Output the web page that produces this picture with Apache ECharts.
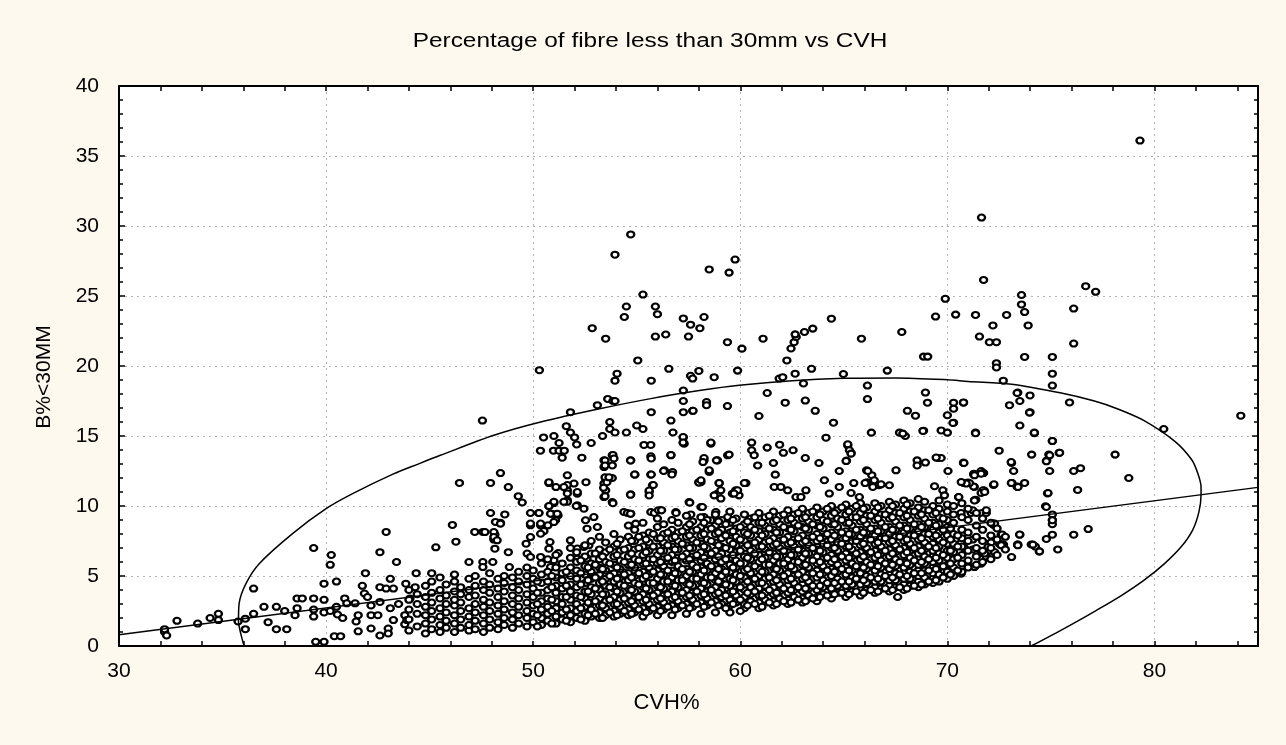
<!DOCTYPE html>
<html>
<head>
<meta charset="utf-8">
<title>Percentage of fibre less than 30mm vs CVH</title>
<script src="https://cdn.jsdelivr.net/npm/echarts@6/dist/echarts.min.js"></script>
<style>
  html, body { margin: 0; padding: 0; background: #fef9ef; }
  #chart { width: 1286px; height: 745px; }
</style>
</head>
<body>
<div id="chart"></div>
<script>
// axis ranges (CVH% on x, B%<30MM on y)
var xMin = 30, xMax = 85, xStep = 10;
var yMin = 0, yMax = 40, yStep = 5;

// single points: [CVH%, B%<30MM]
var leftTail = [
  [32.2,1.0],[32.2,1.2],[32.3,0.75],[32.8,1.8],[33.8,1.6],[34.4,2.0],[34.8,2.3],[34.8,1.85],
  [35.75,1.75],[36.1,1.95],[36.1,1.2],[36.5,4.1],[36.5,2.3],[37.0,2.8],[37.2,1.7],[37.6,2.8],
  [37.6,1.2],[38.1,1.2],[38.0,2.5],[38.5,2.2],[38.6,2.7],[38.6,3.4],[38.85,3.4],[39.4,7.0],
  [39.4,3.4],[39.4,2.6],[39.4,2.1],[39.5,0.3],[39.9,0.3],[39.9,4.45],[39.9,3.3],[39.9,2.4],
  [40.2,5.8],[40.25,6.5],[40.5,4.6],[40.2,2.5],[40.5,2.8],[40.55,2.25],[40.4,0.7],[40.7,0.7],
  [40.9,3.4],[41.0,3.05],[41.4,3.05],[40.8,2.0],[41.45,1.75],[41.55,2.2],[41.55,1.05],[41.9,5.2],
  [41.75,4.3],[41.85,3.75],[42.0,3.5],[42.17,2.9],[42.17,2.2],[42.17,1.25],[42.5,2.2],[42.6,0.75],
  [42.6,3.15],[42.6,4.2],[42.9,4.1],[43.25,4.1],[43.1,4.8],[43.0,1.25],[43.0,0.9],[43.1,2.7],
  [43.25,1.85],[43.4,6.0],[42.9,8.15],[42.6,6.7],[43.5,3.0],[43.8,2.2],[43.8,1.55],[43.9,1.85],
  [43.85,4.45],[44.05,3.4],[44.3,4.2],[44.35,5.2]
];

var midScatter = [
  [46.44,11.65],[46.1,8.65],[46.27,7.45],[45.3,7.05],[46.9,6.0],[47.55,16.1],[48.42,12.35],[47.94,11.65],
  [48.8,11.35],[49.28,10.7],[49.47,10.25],[47.94,9.5],[48.42,8.8],[48.63,9.4],[48.15,7.95],[48.1,7.6],
  [48.15,6.95],[48.8,6.7],[47.57,8.15],[47.18,8.15],[47.67,8.14],[48.1,8.14],[48.18,8.86],[48.42,8.74],
  [48.1,7.78],[48.26,7.55],[47.57,6.0],[47.57,5.64],[48.05,6.0],[48.85,5.64],
  [49.87,9.5],[50.27,9.5],[49.87,8.62],[50.36,8.62],[50.52,8.21],[50.36,8.02],[49.87,7.78],[49.71,6.6],
  [49.87,6.36],[49.66,7.31],[50.36,6.36],[50.76,11.64],[51.0,10.21],[50.76,9.98],[50.88,9.45],[51.2,9.33],
  [51.08,8.98],[50.71,8.62],[50.81,7.43],[50.76,6.95],[51.21,6.64],[51.0,6.12],[50.84,5.64],
  [51.65,12.19],[51.65,11.12],[51.97,11.6],[52.13,10.88],[52.13,10.05],[52.45,9.81],[51.65,10.4],[52.53,8.98],
  [52.93,9.21],[53.1,8.5],[52.6,8.38],[51.8,7.55],[52.13,6.96],[52.45,7.07],[52.69,7.19],[52.13,6.24],[52.6,6.24],
  [53.42,13.26],[53.82,13.62],[53.42,12.78],[53.82,12.9],[53.5,11.96],[53.82,12.0],[53.42,11.6],[53.5,11.12],
  [53.42,10.64],[53.82,10.28],[54.71,13.26],[54.91,12.24],[54.71,10.84],[55.6,11.0],[55.68,12.24],[55.76,11.48],
  [55.68,13.55],[56.65,13.62],[56.33,12.55],[56.73,12.43],[57.29,14.45],[55.35,14.36],[55.68,14.36],[54.38,9.57],
  [54.71,9.45],[54.95,8.74],[55.68,9.57],[56.16,9.69],[56.89,9.57],[57.61,9.4],[58.1,9.93],[58.25,9.21],
  [58.58,8.98],[58.9,8.98],[59.39,9.21],[57.53,10.28],[58.1,11.7],[58.98,11.64],[58.9,10.88],[59.06,10.53],
  [58.5,12.43],[58.25,13.26],[58.9,13.26],[59.39,13.62],[58.58,14.45],
  [52.13,11.0],[52.08,10.0],[51.65,11.5],[51.48,11.35],[51.65,10.9],[51.65,10.3],[51.48,10.3],[51.1,11.35],
  [50.76,11.7],[51.0,10.3],[50.76,10.0],[50.84,9.45],[51.0,8.85],[51.16,9.45],[50.28,9.5],[50.36,8.75],[49.87,8.75]
];

var upperScatter = [
  [54.71,29.4],[53.95,27.95],[55.3,25.1],[54.5,24.25],[54.4,23.5],[55.9,24.25],[56.0,23.7],[52.85,22.7],
  [53.5,21.95],[55.9,22.1],[56.4,22.25],[57.25,23.4],[57.6,22.95],[57.5,22.1],[58.05,22.7],[50.3,19.7],
  [55.05,20.4],[56.55,19.8],[53.95,18.95],[54.05,19.45],[55.7,18.95],[57.6,19.3],[57.7,19.1],[57.25,18.25],
  [57.25,17.5],[57.25,16.7],[57.7,16.8],[58.0,19.65],[58.0,11.7],[53.1,17.2],[53.6,17.65],[53.85,17.5],
  [53.95,17.5],[51.8,16.7],[55.7,16.7],[53.7,16.0],[53.7,15.5],[53.95,15.25],[54.5,15.25],[55.0,15.75],
  [55.3,15.5],[56.65,16.1],[56.75,15.25],[57.25,14.9],[57.25,14.5],[51.6,15.7],[51.8,15.25],[52.0,14.9],
  [52.1,14.4],[50.5,14.9],[51.0,15.0],[51.25,14.5],[50.98,13.95],[51.25,13.95],[51.5,13.95],[51.4,13.45],
  [50.35,13.95],[52.35,13.45],[52.8,14.5],[53.35,15.0],[53.47,13.25],[53.47,12.9],[53.47,12.05],[53.56,11.7],
  [53.66,12.05],[53.4,11.3],[53.47,10.7],[53.85,10.2],[53.85,13.65],[53.9,13.4],[54.7,13.25],[54.9,12.25],
  [55.7,13.4],[55.7,12.25],[55.8,11.5],[55.6,11.1],[55.6,10.75],[54.7,10.8],[54.55,9.5],[54.7,9.45],
  [55.85,9.5],[56.05,9.7],[56.2,9.7],[56.65,13.65],[56.3,12.5],[56.7,12.25],[56.9,9.5],[52.55,11.7],
  [58.5,26.9],[59.46,26.67],[59.75,27.6],[69.9,24.8],[58.25,23.5],[59.38,21.7],[60.08,21.24],[61.1,21.95],
  [62.25,20.4],[62.45,21.25],[62.6,21.7],[62.7,22.07],[63.1,22.43],[63.5,22.67],[62.65,22.26],[64.4,23.38],
  [65.85,21.95],[67.8,22.43],[68.85,20.67],[69.05,20.67],[69.43,23.53],[70.4,23.67],[58.74,19.2],[57.72,16.8],
  [58.37,17.43],[58.37,17.2],[59.38,17.14],[59.87,19.67],[60.9,16.43],[61.3,18.07],[61.88,19.1],[62.05,19.2],
  [62.65,19.45],[63.05,18.75],[63.44,19.8],[62.17,17.38],[63.14,17.53],[63.62,16.8],[64.5,15.95],[64.98,19.43],
  [66.14,18.6],[66.14,17.64],[66.33,15.24],[67.1,19.67],[68.07,16.8],[68.46,16.45],[67.69,15.24],[67.97,15.0],
  [68.94,18.1],[69.04,17.38],[68.85,15.38],[69.7,15.4],[70.0,15.24],[70.0,16.48],[70.3,17.38],[70.3,16.95],
  [70.3,15.95],[70.78,17.38],[71.36,15.24],[64.14,14.88],[60.55,14.53],[60.55,13.98],[60.67,13.63],[60.84,12.9],
  [61.3,14.17],[61.9,14.38],[62.08,13.8],[61.6,13.07],[62.55,13.98],[63.14,13.43],[63.8,13.07],[65.19,14.33],
  [65.35,13.8],[65.13,13.24],[64.78,12.5],[66.1,12.55],[66.35,12.2],[66.37,11.7],[66.12,11.7],[66.7,11.48],
  [67.2,11.48],[67.52,12.55],[68.54,13.26],[68.54,12.9],[68.94,13.1],[69.54,13.43],[69.7,13.43],[70.03,12.5],
  [70.78,13.1],[70.99,11.67],[71.3,11.36],[71.3,12.24],[71.63,12.5],[57.24,14.93],[57.24,14.53],[58.58,14.53],
  [58.25,13.43],[58.2,13.14],[58.85,13.26],[58.5,12.55],[59.46,13.67],[60.27,11.64],[58.0,11.67],[58.1,11.84],
  [58.98,11.64],[59.06,11.12],[58.74,10.76],[59.62,10.88],[59.78,11.12],[59.94,10.76],[57.56,10.24],[58.17,9.93],
  [58.82,9.57],[60.2,11.64],[61.69,12.24],[61.64,11.36],[61.96,11.36],[62.29,11.12],[62.69,10.64],[62.93,10.64],
  [63.17,11.12],[64.06,11.84],[64.3,10.89],[64.78,11.36],[65.11,13.21],[65.19,14.41],[65.27,13.98],[65.35,13.74],
  [65.48,11.64],[65.35,10.93],[65.75,10.64],[66.16,12.5],[66.47,11.84],[66.03,11.64],[66.4,11.36],[66.8,11.55],
  [67.85,15.17],[68.82,15.36],[70.27,15.93],[69.46,13.46],[69.38,11.41],[69.78,11.12],[69.86,10.76],[70.54,10.64],
  [59.87,11.12],[59.7,10.89]
];

var rightScatter = [
  [79.3,36.1],[71.65,30.6],[71.75,26.15],[76.68,25.7],[77.16,25.3],[73.58,25.07],[73.58,24.4],[73.73,23.85],
  [73.9,22.9],[76.1,24.1],[71.36,23.65],[72.2,22.9],[72.86,23.65],[71.55,22.1],[72.03,21.7],[72.37,21.7],
  [76.1,21.6],[73.73,20.65],[75.07,20.65],[72.37,20.2],[72.37,19.9],[75.07,19.45],[75.07,18.6],[72.7,18.95],
  [70.78,17.4],[73.4,18.1],[73.5,17.5],[73.99,17.9],[73.0,17.2],[73.99,16.7],[75.9,17.4],[73.5,15.75],
  [74.2,15.2],[71.36,15.2],[84.17,16.45],[80.45,15.5],[75.07,14.65],[72.5,13.95],[74.07,13.67],[74.9,13.67],
  [75.4,13.8],[74.8,13.25],[78.1,13.67],[70.78,13.07],[73.1,13.07],[73.2,12.5],[74.94,12.5],[76.1,12.5],
  [76.43,12.7],[71.27,12.25],[71.75,12.35],[78.76,12.0],[70.78,11.65],[70.99,11.65],[71.27,11.4],[72.23,11.5],
  [73.1,11.65],[73.4,11.4],[73.73,11.65],[71.67,11.0],[71.78,11.1],[74.84,10.9],[76.29,11.15],[71.37,10.45],
  [74.74,9.98],[75.07,9.4],[75.07,9.0],[75.07,8.7],[75.07,7.95],[70.66,9.5],[71.15,9.5],[71.67,9.5],
  [71.88,9.5],[72.23,8.65],[76.8,8.35],[76.1,7.95],[72.6,7.95],[73.5,7.95],[74.78,7.65],[70.66,7.36],
  [71.23,7.6],[72.11,7.4],[72.52,7.3],[72.71,7.25],[73.39,7.25],[74.05,7.25],[74.25,7.1],[74.44,6.75],
  [75.33,6.9],[73.1,6.35],[70.83,7.0],[71.23,6.9],[71.63,6.65],[71.87,6.4],[72.2,6.5],[74.45,6.76],
  [74.13,7.24],[73.4,7.24],[73.49,7.96],[72.65,7.96],[72.65,7.24],[72.23,8.74],[74.78,9.93],[75.07,8.98],
  [74.86,10.93],[73.08,13.14],[73.12,11.64],[73.37,11.36],[74.78,13.19],[74.94,13.62],[75.42,13.81],[73.37,18.07],
  [73.97,16.67],[74.2,15.24],[75.07,14.64],[73.09,11.64],[73.41,11.36],[72.25,11.55],[71.72,11.12],[71.63,10.93],
  [71.31,10.41],[70.83,11.64],[71.07,11.64],[71.28,12.31],[71.72,12.36],[70.8,13.07],[73.4,7.19],[72.52,7.31],
  [72.28,8.74],[71.63,5.88],[71.31,5.64],[70.99,5.76],[70.67,5.17],[70.34,5.4],[71.8,6.6],[71.96,7.07],
  [72.28,6.71],[72.6,7.19],[70.55,10.64],[71.31,10.4],[71.8,11.0],[71.63,12.31],[71.31,12.19],[70.91,11.6],
  [70.67,11.71],[71.23,9.69],[71.88,9.69],[69.54,4.81],[70.03,5.29],[70.18,5.64],[69.38,5.17],[67.6,3.5],[68.0,4.21]
];

// the packed band of points, read column by column: [CVH%, [B%<30MM values]]
var bandColumns = [
  [44.0, [1.1,1.9,2.6,3.3,4.0]],
  [44.4, [1.4,2.3,3.0,3.7]],
  [44.8, [0.9,1.6,2.2,2.8,3.5,4.3]],
  [45.1, [1.2,1.9,2.5,3.1,3.8,4.6,5.2]],
  [45.5, [1.0,1.5,2.1,2.7,3.4,4.0,4.9]],
  [45.8, [1.3,1.8,2.4,3.0,3.6,4.4]],
  [46.2, [1.0,1.6,2.2,2.9,3.3,3.9,4.6,5.1]],
  [46.5, [1.3,1.9,2.5,3.1,3.7,4.2]],
  [46.9, [1.1,1.5,2.1,2.7,3.5,4.0,4.8]],
  [47.2, [1.2,1.8,2.4,3.0,3.6,4.3,5.0]],
  [47.6, [1.0,1.6,2.2,2.8,3.3,4.0,4.6]],
  [47.9, [1.3,1.9,2.5,3.1,3.8,4.4,5.2]],
  [48.3, [1.2,1.7,2.3,2.9,3.5,4.1,4.8]],
  [48.6, [1.5,2.0,2.6,3.2,3.9,4.5,5.0]],
  [49.0, [1.3,1.9,2.4,3.0,3.6,4.2,4.9]],
  [49.3, [1.6,2.2,2.8,3.4,4.0,4.6,5.3]],
  [49.7, [1.4,2.0,2.5,3.1,3.7,4.4,5.0,5.6]],
  [50.0, [1.7,2.3,2.9,3.5,4.1,4.8,5.4]],
  [50.4, [1.5,2.0,2.6,3.2,3.8,4.5,5.1,5.9]],
  [50.7, [1.8,2.3,2.8,3.4,4.0,4.6,5.3,6.2]],
  [51.1, [1.6,2.1,2.7,3.2,3.8,4.3,4.9,5.6,6.5]],
  [51.4, [1.9,2.4,3.0,3.5,4.1,4.7,5.2,5.9]],
  [51.8, [1.7,2.2,2.7,3.3,3.9,4.4,5.0,5.6,6.3,7.0]],
  [52.1, [2.0,2.5,3.0,3.6,4.2,4.8,5.4,6.0,6.7]],
  [52.5, [1.8,2.3,2.8,3.4,3.9,4.5,5.1,5.7,6.4,7.2]],
  [52.8, [2.1,2.6,3.1,3.7,4.2,4.8,5.3,5.9,6.6,7.5]],
  [53.2, [2.0,2.4,2.9,3.4,4.0,4.5,5.1,5.6,6.2,6.9,7.8]],
  [53.5, [2.2,2.7,3.2,3.7,4.3,4.8,5.4,6.0,6.7,7.4]],
  [53.9, [2.1,2.5,3.0,3.5,4.1,4.6,5.2,5.8,6.4,7.1,8.0]],
  [54.2, [2.3,2.8,3.3,3.8,4.4,4.9,5.5,6.1,6.8,7.6]],
  [54.6, [2.2,2.6,3.1,3.6,4.1,4.7,5.2,5.8,6.4,7.0,7.8,8.6]],
  [54.9, [2.4,2.9,3.4,3.9,4.5,5.0,5.6,6.2,6.9,7.5,8.3]],
  [55.3, [2.1,2.7,3.2,3.7,4.2,4.8,5.3,5.9,6.5,7.1,7.9,8.8]],
  [55.6, [2.5,3.0,3.5,4.0,4.5,5.1,5.6,6.2,6.8,7.4,8.1]],
  [56.0, [2.2,2.8,3.3,3.8,4.3,4.8,5.4,5.9,6.5,7.1,7.7,8.5,9.1]],
  [56.3, [2.6,3.1,3.6,4.1,4.6,5.1,5.7,6.2,6.8,7.4,8.0,8.7]],
  [56.7, [2.2,2.9,3.4,3.9,4.4,4.9,5.4,6.0,6.5,7.1,7.7,8.3,9.0]],
  [57.0, [2.7,3.2,3.7,4.2,4.7,5.2,5.7,6.3,6.9,7.5,8.1,8.8]],
  [57.4, [2.3,3.0,3.5,4.0,4.5,5.0,5.5,6.1,6.6,7.2,7.8,8.5,9.3]],
  [57.7, [2.8,3.3,3.8,4.3,4.8,5.3,5.8,6.4,7.0,7.6,8.2,8.9]],
  [58.1, [2.3,3.1,3.6,4.1,4.6,5.1,5.6,6.1,6.7,7.3,7.9,8.5,9.2]],
  [58.4, [2.9,3.4,3.9,4.4,4.9,5.4,5.9,6.5,7.0,7.6,8.3,9.0]],
  [58.8, [2.4,3.2,3.7,4.2,4.7,5.2,5.7,6.2,6.8,7.4,8.0,8.6,9.4]],
  [59.1, [3.0,3.5,4.0,4.5,5.0,5.5,6.0,6.6,7.1,7.7,8.3,9.0]],
  [59.5, [2.4,2.9,3.3,3.8,4.3,4.8,5.3,5.8,6.3,6.9,7.5,8.1,8.8,9.6]],
  [59.8, [3.1,3.6,4.1,4.6,5.1,5.6,6.1,6.7,7.2,7.8,8.4,9.1]],
  [60.2, [2.7,3.0,3.5,4.0,4.4,4.9,5.4,5.9,6.4,7.0,7.5,8.1,8.7,9.4]],
  [60.5, [3.2,3.7,4.2,4.7,5.2,5.7,6.2,6.8,7.3,7.9,8.5,9.1]],
  [60.9, [2.7,3.1,3.6,4.1,4.5,5.0,5.5,6.0,6.5,7.1,7.6,8.2,8.8,9.5]],
  [61.2, [3.3,3.8,4.3,4.8,5.3,5.8,6.3,6.9,7.4,8.0,8.6,9.2]],
  [61.6, [2.9,3.2,3.7,4.2,4.6,5.1,5.6,6.1,6.6,7.2,7.7,8.3,8.9,9.6]],
  [61.9, [3.4,3.9,4.4,4.9,5.4,5.9,6.4,7.0,7.5,8.1,8.7,9.3]],
  [62.3, [3.0,3.3,3.8,4.3,4.7,5.2,5.7,6.2,6.7,7.3,7.8,8.4,9.0,9.7]],
  [62.6, [3.5,4.0,4.5,5.0,5.5,6.0,6.5,7.1,7.6,8.2,8.8,9.4]],
  [63.0, [3.1,3.4,3.9,4.4,4.8,5.3,5.8,6.3,6.8,7.4,7.9,8.5,9.1,9.8]],
  [63.3, [3.6,4.1,4.6,5.1,5.6,6.1,6.6,7.2,7.7,8.3,8.9,9.5]],
  [63.7, [3.2,3.5,4.0,4.5,4.9,5.4,5.9,6.4,6.9,7.5,8.0,8.6,9.2,9.9]],
  [64.0, [3.7,4.2,4.7,5.2,5.7,6.2,6.7,7.3,7.8,8.4,9.0,9.6]],
  [64.4, [3.4,3.7,4.1,4.6,5.0,5.5,6.0,6.5,7.0,7.6,8.1,8.7,9.3,10.0]],
  [64.7, [3.8,4.3,4.8,5.3,5.8,6.3,6.8,7.4,7.9,8.5,9.1,9.7]],
  [65.1, [3.5,3.9,4.3,4.7,5.1,5.6,6.1,6.6,7.1,7.7,8.2,8.8,9.4,10.1]],
  [65.4, [3.9,4.4,4.9,5.4,5.9,6.4,6.9,7.5,8.0,8.6,9.2,9.8]],
  [65.8, [3.6,4.0,4.4,4.8,5.2,5.7,6.2,6.7,7.2,7.8,8.3,8.9,9.5,10.2]],
  [66.1, [4.0,4.5,5.0,5.5,6.0,6.5,7.0,7.6,8.1,8.7,9.3,9.9]],
  [66.5, [3.8,4.2,4.6,5.0,5.4,5.8,6.3,6.8,7.3,7.9,8.4,9.0,9.6,10.2]],
  [66.8, [4.1,4.6,5.1,5.6,6.1,6.6,7.1,7.7,8.2,8.8,9.4,10.0]],
  [67.2, [3.9,4.3,4.7,5.1,5.5,5.9,6.4,6.9,7.4,8.0,8.5,9.1,9.7,10.3]],
  [67.5, [4.2,4.7,5.2,5.7,6.2,6.7,7.2,7.8,8.3,8.9,9.5,10.1]],
  [67.9, [4.0,4.4,4.8,5.2,5.6,6.0,6.5,7.0,7.5,8.1,8.6,9.2,9.8,10.4]],
  [68.2, [4.3,4.8,5.3,5.8,6.3,6.8,7.3,7.9,8.4,9.0,9.6,10.2]],
  [68.6, [4.2,4.6,5.0,5.4,5.8,6.2,6.6,7.1,7.6,8.2,8.7,9.3,9.9,10.5]],
  [68.9, [4.4,4.9,5.4,5.9,6.4,6.9,7.4,8.0,8.5,9.1,9.7,10.3]],
  [69.3, [4.5,4.8,5.2,5.6,6.0,6.4,6.8,7.3,7.8,8.3,8.8,9.4,10.0]],
  [69.6, [4.6,5.1,5.6,6.1,6.6,7.1,7.6,8.1,8.7,9.2,9.8,10.4]],
  [70.0, [4.8,5.3,5.8,6.3,6.8,7.3,7.9,8.5,9.0,9.6,10.1]],
  [70.3, [5.0,5.6,6.2,6.7,7.3,8.0,8.8,9.4,10.0]],
  [70.7, [5.3,5.9,6.5,7.1,7.7,8.3,9.2,10.2]],
  [71.0, [5.6,6.1,6.8,7.5,8.1,9.0,9.8]],
  [71.4, [5.8,6.4,7.0,7.8,8.6,9.5]],
  [71.7, [6.0,6.8,7.5,8.3,9.1]],
  [72.1, [6.2,7.0,7.9,8.8]],
  [72.4, [6.5,7.6,8.4]],
  [72.8, [6.9,7.8]]
];

// second pass over the darkest part of the band, between the columns above
var bandColumnsInner = [
  [50.2, [1.4,2.2,3.0,3.8,4.6]],
  [50.9, [1.6,2.5,3.3,4.2,5.0]],
  [51.6, [1.8,2.6,3.5,4.3,5.3]],
  [52.3, [1.9,2.7,3.5,4.4,5.2,6.1]],
  [52.65, [2.2,3.1,3.9,4.7,5.6]],
  [53.0, [2.3,3.2,4.1,4.9,5.8,6.6]],
  [53.35, [2.0,2.9,3.7,4.6,5.5,6.4]],
  [53.7, [2.4,3.3,4.2,5.0,5.9,6.9]],
  [54.05, [2.2,3.0,3.9,4.8,5.6,6.5,7.3]],
  [54.4, [2.5,3.4,4.3,5.1,6.0,6.9]],
  [54.75, [2.3,3.2,4.0,4.9,5.8,6.6,7.5]],
  [55.1, [2.6,3.5,4.4,5.2,6.1,7.0,7.8]],
  [55.45, [2.4,3.3,4.1,5.0,5.9,6.7,7.6]],
  [55.8, [2.7,3.6,4.5,5.3,6.2,7.1,8.0]],
  [56.15, [2.5,3.4,4.2,5.1,6.0,6.8,7.7]],
  [56.5, [2.8,3.7,4.6,5.4,6.3,7.2,8.1]],
  [56.85, [2.6,3.5,4.3,5.2,6.1,6.9,7.8]],
  [57.2, [2.9,3.8,4.7,5.5,6.4,7.3,8.2]],
  [57.55, [2.7,3.6,4.4,5.3,6.2,7.0,7.9,8.7]],
  [57.9, [3.0,3.9,4.8,5.6,6.5,7.4,8.3]],
  [58.25, [2.8,3.7,4.5,5.4,6.3,7.1,8.0,8.8]],
  [58.6, [3.1,4.0,4.9,5.7,6.6,7.5,8.4]],
  [58.95, [2.9,3.8,4.6,5.5,6.4,7.2,8.1,8.9]],
  [59.3, [2.7,3.6,4.4,5.3,6.2,7.0,7.9,8.7]],
  [59.65, [3.0,3.9,4.7,5.6,6.5,7.3,8.2,9.0]],
  [60.0, [2.5,3.3,4.2,5.0,5.9,6.8,7.6,8.5]],
  [60.35, [2.9,3.8,4.6,5.5,6.3,7.2,8.0,8.9]],
  [60.7, [3.0,3.9,4.8,5.7,6.6,7.4,8.3,9.2]],
  [61.05, [2.8,3.6,4.5,5.3,6.2,7.1,7.9,8.8]],
  [61.4, [3.1,4.0,4.9,5.8,6.7,7.5,8.4,9.3]],
  [61.75, [3.0,3.8,4.7,5.5,6.4,7.3,8.1,9.0]],
  [62.1, [3.2,4.1,5.0,5.9,6.8,7.6,8.5,9.4]],
  [62.45, [3.1,4.0,4.8,5.7,6.5,7.4,8.3,9.1]],
  [62.8, [3.3,4.2,5.1,6.0,6.9,7.7,8.6,9.5]],
  [63.15, [3.2,4.1,4.9,5.8,6.6,7.5,8.4,9.2]],
  [63.5, [3.4,4.3,5.2,6.1,7.0,7.8,8.7,9.6]],
  [63.85, [3.5,4.3,5.1,6.0,6.8,7.7,8.5,9.4]],
  [64.2, [3.6,4.5,5.4,6.3,7.2,8.0,8.9,9.8]],
  [64.55, [3.7,4.5,5.3,6.2,7.0,7.9,8.7,9.5]],
  [64.9, [3.8,4.6,5.5,6.4,7.3,8.1,9.0,9.9]],
  [65.25, [3.7,4.6,5.4,6.3,7.1,8.0,8.8,9.6]],
  [65.6, [3.9,4.8,5.7,6.6,7.5,8.3,9.2,10.0]],
  [65.95, [3.8,4.7,5.6,6.4,7.3,8.1,9.0,9.8]],
  [66.3, [4.0,4.9,5.8,6.7,7.6,8.4,9.3]],
  [66.65, [3.9,4.8,5.7,6.5,7.4,8.2,9.1,9.9]],
  [67.0, [4.1,5.0,5.9,6.8,7.7,8.5,9.4]],
  [67.35, [4.0,4.9,5.8,6.6,7.5,8.3,9.2,10.0]],
  [67.7, [4.2,5.1,6.0,6.9,7.8,8.6,9.5]],
  [68.05, [4.1,5.0,5.9,6.7,7.6,8.4,9.3,10.1]],
  [68.4, [4.3,5.2,6.1,7.0,7.9,8.7,9.6]],
  [68.75, [4.4,5.2,6.0,6.8,7.7,8.5,9.4]],
  [69.1, [4.6,5.4,6.2,7.1,8.0,8.8,9.7]],
  [69.45, [4.7,5.5,6.3,7.0,7.9,8.6,9.5]],
  [69.8, [4.9,5.7,6.5,7.4,8.3,9.1]],
  [70.15, [5.1,5.9,6.8,7.6,8.4]],
  [70.5, [5.4,6.3,7.1,7.9]]
];

// fitted straight line and the outline of the ellipse
var regressionLine = [[30, 0.81], [85, 11.33]];
var ellipseOutline = [
  [36.04,0.0],[35.88,0.88],[35.77,1.78],[35.8,3.03],[36.13,4.46],[36.77,5.88],[38.38,8.03],[40.0,9.81],
  [41.28,10.88],[43.2,12.26],[44.5,13.03],[45.52,13.62],[48.1,15.05],[50.36,16.0],[53.26,16.96],[55.68,17.67],
  [58.1,18.26],[59.95,18.62],[62.5,18.95],[65.0,19.12],[67.5,19.15],[70.0,19.02],[71.0,18.9],[73.1,18.7],
  [75.5,18.07],[77.1,17.5],[78.2,16.95],[79.5,16.1],[81.0,14.6],[81.8,13.3],[82.1,12.3],[82.25,11.35],
  [82.25,10.8],[82.15,9.6],[81.85,8.3],[81.3,7.1],[80.5,5.9],[79.5,4.7],[78.4,3.6],[77.2,2.55],
  [75.7,1.3],[74.05,0.0]
];

var fontFamily = 'Liberation Sans, Arial, sans-serif';

var points = [].concat(leftTail, midScatter, upperScatter, rightScatter);
bandColumns.concat(bandColumnsInner).forEach(function (col) {
  col[1].forEach(function (v) { points.push([col[0], v]); });
});

var chart = echarts.init(document.getElementById('chart'), null, { renderer: 'canvas' });

var tickLine = { color: '#000', width: 1.5 };
var gridLine = { color: '#b4b4b4', type: [2, 4], width: 1 };

chart.setOption({
  backgroundColor: '#fef9ef',
  animation: false,
  graphic: [{
    // title, widened to match the stretched lettering of the original
    type: 'text',
    x: 650,
    y: 41,
    scaleX: 1.22,
    silent: true,
    style: {
      text: 'Percentage of fibre less than 30mm vs CVH',
      fontFamily: fontFamily,
      fontSize: 20,
      fill: '#000',
      align: 'center',
      verticalAlign: 'middle'
    }
  }],
  grid: {
    left: 119, right: 28, top: 86, bottom: 99,
    show: true, backgroundColor: '#fff', borderWidth: 0
  },
  xAxis: [{
    type: 'value', min: xMin, max: xMax, interval: xStep,
    name: 'CVH%', nameLocation: 'middle', nameGap: 46,
    nameTextStyle: { fontFamily: fontFamily, fontSize: 22, color: '#000', padding: [0, 44, 0, 0] },
    axisLine: { onZero: false, lineStyle: { color: '#000', width: 2 } },
    axisTick: { show: false },
    axisLabel: { fontFamily: fontFamily, fontSize: 21, color: '#000', margin: 15, showMaxLabel: false },
    splitLine: { show: true, lineStyle: gridLine }
  }, {
    // top frame with ticks every 2
    type: 'value', position: 'top', min: xMin, max: xMax, interval: 2,
    axisLine: { onZero: false, lineStyle: { color: '#000', width: 2 } },
    axisTick: { inside: true, length: 5, lineStyle: tickLine },
    axisLabel: { show: false },
    splitLine: { show: false }
  }, {
    // bottom ticks every 2
    type: 'value', position: 'bottom', min: xMin, max: xMax, interval: 2,
    axisLine: { show: false, onZero: false },
    axisTick: { inside: true, length: 5, lineStyle: tickLine },
    axisLabel: { show: false },
    splitLine: { show: false }
  }],
  yAxis: [{
    type: 'value', min: yMin, max: yMax, interval: yStep,
    name: 'B%<30MM', nameLocation: 'middle', nameGap: 64, nameRotate: 90,
    nameTextStyle: { fontFamily: fontFamily, fontSize: 21, color: '#000', padding: [0, 22, 0, 0] },
    axisLine: { onZero: false, lineStyle: { color: '#000', width: 2 } },
    axisTick: { inside: true, length: 6, lineStyle: tickLine },
    minorTick: { show: true, splitNumber: 5, length: 4, lineStyle: tickLine },
    axisLabel: { fontFamily: fontFamily, fontSize: 21, color: '#000', margin: 20 },
    splitLine: { show: true, lineStyle: gridLine }
  }, {
    type: 'value', position: 'right', min: yMin, max: yMax, interval: yStep,
    axisLine: { onZero: false, lineStyle: { color: '#000', width: 2 } },
    axisTick: { inside: true, length: 6, lineStyle: tickLine },
    minorTick: { show: true, splitNumber: 5, length: 4, lineStyle: tickLine },
    axisLabel: { show: false },
    splitLine: { show: false }
  }],
  series: [{
    name: 'samples',
    type: 'scatter',
    data: points,
    symbol: 'circle',
    symbolSize: [7, 6],
    large: false,
    progressive: 0,
    itemStyle: { color: '#fff', borderColor: '#000', borderWidth: 2.2, opacity: 1 },
    emphasis: { disabled: true },
    z: 2
  }, {
    name: 'regression',
    type: 'line',
    data: regressionLine,
    showSymbol: false,
    lineStyle: { color: '#000', width: 1.5 },
    emphasis: { disabled: true },
    clip: true,
    z: 3
  }, {
    name: 'ellipse',
    type: 'line',
    data: ellipseOutline,
    showSymbol: false,
    smooth: 0.3,
    lineStyle: { color: '#000', width: 1.5 },
    emphasis: { disabled: true },
    clip: true,
    z: 3
  }]
});
</script>
</body>
</html>
